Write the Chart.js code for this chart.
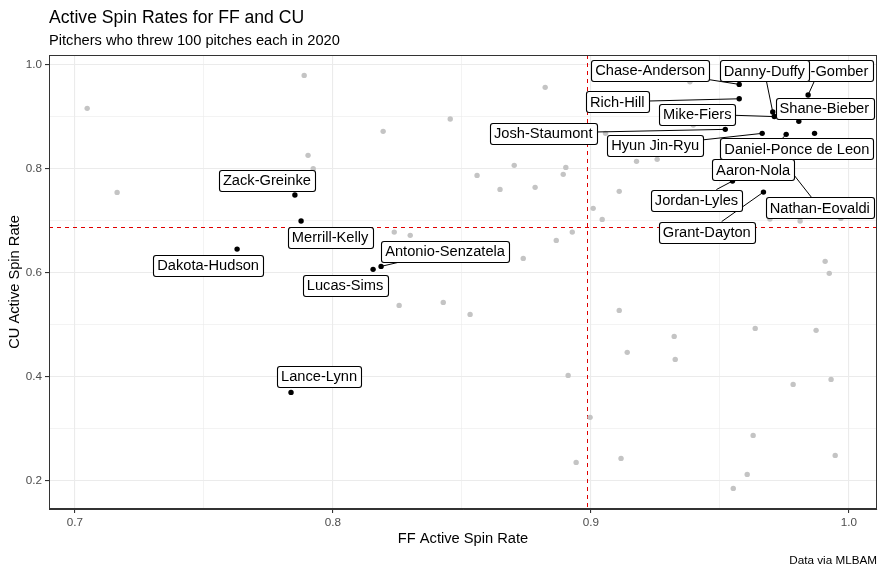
<!DOCTYPE html>
<html>
<head>
<meta charset="utf-8">
<script src="https://cdn.jsdelivr.net/npm/chart.js@4.4.1/dist/chart.umd.min.js"></script>
<style>
  html, body { margin: 0; padding: 0; background: #fff; }
</style>
</head>
<body>
<canvas id="chart" width="886" height="573"></canvas>
<script>
// everyone else (grey points)
const otherFF = [0.7048, 0.7164, 0.7889, 0.7904, 0.7924, 0.8195, 0.8455, 0.8823, 0.8559, 0.8703,
  0.8648, 0.8784, 0.8903, 0.8893, 0.8238, 0.8300, 0.8866, 0.8928, 0.8738, 0.8257,
  0.8428, 0.8532, 0.8912, 0.8943, 0.8997, 0.9908, 0.9924, 0.9110, 0.9323, 0.9141,
  0.9327, 0.9637, 0.9873, 0.9784, 0.9931, 0.9629, 0.9117, 0.9947, 0.9606, 0.9552,
  0.9177, 0.9257, 0.9110, 0.9009, 0.9044, 0.9694, 0.9811, 0.9969, 0.9384, 0.9397, 0.9057]
const otherCU = [0.9154, 0.7538, 0.9788, 0.8250, 0.7992, 0.8712, 0.8948, 0.9558, 0.7865, 0.8058,
  0.7596, 0.7635, 0.8019, 0.7885, 0.6775, 0.6712, 0.6615, 0.6775, 0.6269, 0.5365,
  0.5423, 0.5192, 0.4019, 0.2346, 0.3212, 0.6212, 0.5981, 0.5269, 0.4769, 0.4462,
  0.4327, 0.4923, 0.4885, 0.3846, 0.3942, 0.2865, 0.2423, 0.2481, 0.2115, 0.1846,
  0.8135, 0.8173, 0.7558, 0.7231, 0.7019, 0.7025, 0.6987, 0.7038, 0.9665, 0.8833, 0.8673]

// labelled pitchers
const pitcherNames = ['Zack-Greinke', 'Merrill-Kelly', 'Dakota-Hudson', 'Lance-Lynn', 'Lucas-Sims',
  'Antonio-Senzatela', 'Chase-Anderson', 'Austin-Gomber', 'Danny-Duffy', 'Rich-Hill',
  'Shane-Bieber', 'Mike-Fiers', 'Josh-Staumont', 'Hyun Jin-Ryu', 'Daniel-Ponce de Leon',
  'Aaron-Nola', 'Jordan-Lyles', 'Nathan-Eovaldi', 'Grant-Dayton']
const pitcherFF = [0.7853, 0.7877, 0.7629, 0.7838, 0.8156, 0.8187, 0.9575, 0.9842, 0.9705, 0.9575,
  0.9806, 0.9711, 0.9521, 0.9664, 0.9867, 0.9757, 0.9549, 0.9767, 0.9669]
const pitcherCU = [0.7487, 0.6987, 0.6448, 0.3692, 0.6058, 0.6115, 0.9615, 0.9410, 0.9083, 0.9338,
  0.8904, 0.8996, 0.8750, 0.8673, 0.8673, 0.8654, 0.7756, 0.8000, 0.7544]

const ffLine = 0.8985
const cuLine = 0.6865

const xTickLabels = ['0.7', '0.8', '0.9', '1.0']
const yTickLabels = ['0.2', '0.4', '0.6', '0.8', '1.0']

// where each label box sits relative to its point, in pixels
const labelNudge = [[-28, -15], [29, 16], [-29, 16], [28, -16], [-28, 16],
  [64, -15], [-89, -14], [11, -24.5], [-8.5, -41.5], [-122, 3],
  [25.5, -13.3], [-77, -2.5], [-182, 3.7], [-107, 11.7], [-17.7, 15.4],
  [-33, 35.2], [-36, 19], [31, 39.5], [-56.7, 40]]

const FONT = '"Liberation Sans", Arial, sans-serif'

const guideLines = {
  id: 'guideLines',
  beforeDatasetsDraw (chart) {
    const { ctx, chartArea: a, scales: { x, y } } = chart
    const vx = Math.round(x.getPixelForValue(ffLine)) + 0.5
    const hy = Math.round(y.getPixelForValue(cuLine)) + 0.5
    ctx.save()
    ctx.strokeStyle = '#e00000'
    ctx.lineWidth = 1
    ctx.setLineDash([4, 4])
    ctx.beginPath()
    ctx.moveTo(vx, a.top)
    ctx.lineTo(vx, a.bottom)
    ctx.moveTo(a.left, hy)
    ctx.lineTo(a.right, hy)
    ctx.stroke()
    ctx.restore()
  }
}

const repelLabels = {
  id: 'repelLabels',
  afterDatasetsDraw (chart) {
    const { ctx, scales: { x, y } } = chart
    ctx.save()
    ctx.font = '14.67px ' + FONT
    const boxes = pitcherNames.map((name, i) => {
      const px = x.getPixelForValue(pitcherFF[i])
      const py = y.getPixelForValue(pitcherCU[i])
      return {
        name,
        px,
        py,
        cx: px + labelNudge[i][0],
        cy: py + labelNudge[i][1],
        w: ctx.measureText(name).width + 8,
        h: 21
      }
    })

    // segments only where the label sits well away from its point
    ctx.strokeStyle = '#000'
    ctx.lineWidth = 1
    for (const b of boxes) {
      const dx = b.px - b.cx
      const dy = b.py - b.cy
      const t = Math.min(Math.abs((b.w / 2) / dx), Math.abs((b.h / 2) / dy))
      if (t >= 1) continue
      const sx = b.cx + dx * t
      const sy = b.cy + dy * t
      if (Math.hypot(b.px - sx, b.py - sy) < 13) continue
      ctx.beginPath()
      ctx.moveTo(sx, sy)
      ctx.lineTo(b.px, b.py)
      ctx.stroke()
    }

    ctx.textAlign = 'center'
    ctx.textBaseline = 'middle'
    for (const b of boxes) {
      const l = Math.round(b.cx - b.w / 2) + 0.5
      const t = Math.round(b.cy - b.h / 2) + 0.5
      ctx.beginPath()
      ctx.roundRect(l, t, Math.round(b.w), b.h, 2.5)
      ctx.fillStyle = '#fff'
      ctx.fill()
      ctx.lineWidth = 1.1
      ctx.stroke()
      ctx.fillStyle = '#000'
      ctx.fillText(b.name, b.cx, b.cy + 1)
    }
    ctx.restore()
  }
}

const frameAndText = {
  id: 'frameAndText',
  afterDraw (chart) {
    const { ctx, chartArea: a } = chart
    ctx.save()
    ctx.strokeStyle = '#333'
    ctx.lineWidth = 1
    ctx.strokeRect(a.left + 0.5, a.top + 0.5, a.right - a.left - 1, a.bottom - a.top - 1)

    ctx.fillStyle = '#000'
    ctx.textAlign = 'left'
    ctx.textBaseline = 'alphabetic'
    ctx.font = '17.6px ' + FONT
    ctx.fillText('Active Spin Rates for FF and CU', a.left, 23)
    ctx.font = '14.67px ' + FONT
    ctx.fillText('Pitchers who threw 100 pitches each in 2020', a.left, 45)

    ctx.textAlign = 'right'
    ctx.textBaseline = 'middle'
    ctx.font = '11.7px ' + FONT
    ctx.fillText('Data via MLBAM', a.right, 561)
    ctx.restore()
  }
}

const isLabelled = (v, labels) => labels.includes(v.toFixed(1)) && Math.abs(v * 10 - Math.round(v * 10)) < 1e-6

new Chart(document.getElementById('chart'), {
  type: 'scatter',
  data: {
    datasets: [
      {
        data: otherFF.map((v, i) => ({ x: v, y: otherCU[i] })),
        backgroundColor: '#c4c4c4',
        borderWidth: 0,
        pointRadius: 2.7
      },
      {
        data: pitcherFF.map((v, i) => ({ x: v, y: pitcherCU[i] })),
        backgroundColor: '#000',
        borderWidth: 0,
        pointRadius: 2.7
      }
    ]
  },
  options: {
    responsive: false,
    animation: false,
    layout: { padding: { top: 55, right: 9, left: 0, bottom: 0 } },
    plugins: {
      legend: { display: false },
      tooltip: { enabled: false }
    },
    scales: {
      x: {
        type: 'linear',
        min: 0.69,
        max: 1.0109,
        afterFit: (scale) => { scale.height = 64 },
        ticks: {
          stepSize: 0.05,
          includeBounds: false,
          autoSkip: false,
          maxRotation: 0,
          padding: 3,
          color: '#4d4d4d',
          font: { family: FONT, size: 11.7 },
          callback: (v) => isLabelled(v, xTickLabels) ? v.toFixed(1) : ''
        },
        grid: {
          color: '#ebebeb',
          lineWidth: (c) => c.tick && isLabelled(c.tick.value, xTickLabels) ? 1.1 : 0.6,
          tickLength: 4,
          tickColor: (c) => c.tick && isLabelled(c.tick.value, xTickLabels) ? '#333' : 'rgba(0,0,0,0)'
        },
        border: { color: '#333', width: 1 },
        title: {
          display: true,
          text: 'FF Active Spin Rate',
          color: '#000',
          font: { family: FONT, size: 14.67 },
          padding: { top: 4, bottom: 25 }
        }
      },
      y: {
        type: 'linear',
        min: 0.145,
        max: 1.018,
        afterFit: (scale) => { scale.width = 49 },
        ticks: {
          stepSize: 0.1,
          includeBounds: false,
          autoSkip: false,
          padding: 3,
          color: '#4d4d4d',
          font: { family: FONT, size: 11.7 },
          callback: (v) => isLabelled(v, yTickLabels) ? v.toFixed(1) : ''
        },
        grid: {
          color: '#ebebeb',
          lineWidth: (c) => c.tick && isLabelled(c.tick.value, yTickLabels) ? 1.1 : 0.6,
          tickLength: 4,
          tickColor: (c) => c.tick && isLabelled(c.tick.value, yTickLabels) ? '#333' : 'rgba(0,0,0,0)'
        },
        border: { color: '#333', width: 1 },
        title: {
          display: true,
          text: 'CU Active Spin Rate',
          color: '#000',
          font: { family: FONT, size: 14.67 },
          padding: { top: 6, bottom: 4 }
        }
      }
    }
  },
  plugins: [guideLines, repelLabels, frameAndText]
})
</script>
</body>
</html>
